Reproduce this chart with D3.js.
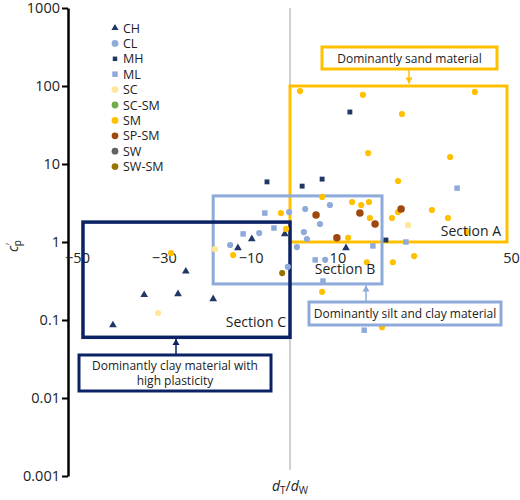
<!DOCTYPE html>
<html>
<head>
<meta charset="utf-8">
<script src="https://cdn.jsdelivr.net/npm/d3@7"></script>
<style>
body{margin:0;background:#fff;}
text{font-family:"Open Sans",sans-serif;fill:#222;}
</style>
</head>
<body>
<svg id="chart" width="520" height="500"></svg>
<script>
// 各类土的数据点 [dT/dW, c'p]
var classNames = ['CH','CL','MH','ML','SC','SC-SM','SM','SP-SM','SW','SW-SM'];
var CH = [[-40.8,0.086],[-33.6,0.21],[-25.8,0.215],[-24.0,0.42],[-17.7,0.186],[-12.0,0.84],[-8.8,1.09],[-1.2,1.27],[12.9,0.84]];
var CL = [[-13.8,0.915],[-7.1,1.30],[-0.2,2.42],[1.6,0.86],[-0.5,0.48],[3.5,2.65],[9.2,2.98],[6.9,1.70],[3.2,1.34],[3.9,1.09],[8.1,0.59]];
var MH = [[13.8,46.4],[-5.3,5.9],[2.8,5.2],[7.4,6.4],[22.1,1.06]];
var ML = [[38.5,4.9],[-5.8,2.35],[-10.8,1.27],[-3.7,1.51],[19.1,0.89],[26.7,1.0],[5.8,0.59],[7.6,0.316],[17.1,0.074]];
var SC = [[-30.4,0.123],[-17.3,0.81],[27.2,1.65]];
var SCSM = [];
var SM = [[2.3,86],[16.8,77],[42.6,84],[25.8,43.8],[18.0,13.8],[36.9,12.3],[24.9,6.05],[7.4,3.78],[14.3,3.26],[16.4,2.98],[18.2,3.26],
          [24.9,2.42],[32.7,2.57],[36.4,2.03],[18.4,2.03],[23.5,2.03],[40.8,1.34],[-2.1,2.35],[-0.9,1.47],[-13.1,0.68],[-27.4,0.72],
          [13.4,1.13],[28.6,0.66],[23.7,0.55],[17.7,0.55],[7.4,0.23],[21.2,0.081],[32.3,0.127]];
var SPSM = [[6.0,2.22],[16.1,2.35],[19.6,1.70],[25.6,2.65],[10.8,1.13]];
var SW = [];
var SWSM = [[-1.8,0.40]];
var seriesData = [CH, CL, MH, ML, SC, SCSM, SM, SPSM, SW, SWSM];

var yTicks = [0.001, 0.01, 0.1, 1, 10, 100, 1000];
var xTicks = [-50, -30, -10, 10, 50];

// 分区框（数据坐标）
var sections = [
    {name:'Section A', x0:0, x1:50, y0:1, y1:100},
    {name:'Section B', x0:-17.7, x1:21.2, y0:0.29, y1:3.9},
    {name:'Section C', x0:-47.7, x1:0, y0:0.06, y1:1.8}
];

// 样式
var navy = '#1f3864', lightBlue = '#8eaadb', gold = '#ffc000';
var colors = {'CH':navy,'CL':lightBlue,'MH':navy,'ML':lightBlue,'SC':'#ffe699','SC-SM':'#70ad47',
              'SM':gold,'SP-SM':'#9e480e','SW':'#636363','SW-SM':'#997300'};
var shapes = {'CH':d3.symbolTriangle,'MH':d3.symbolSquare,'ML':d3.symbolSquare};
var sizes = {'CH':26,'MH':24,'ML':30,'SP-SM':44};
var boxColors = {'Section A':gold,'Section B':lightBlue,'Section C':'#0b2264'};

var svg = d3.select('#chart');
var x = d3.scaleLinear().domain([-50, 50]).range([73, 507]);
var y = d3.scaleLog().domain([0.001, 1000]).range([476, 8]);

// x=0 灰线
svg.append('line')
    .attr('x1', x(0)).attr('x2', x(0))
    .attr('y1', y(1000)).attr('y2', y(0.0012))
    .attr('stroke', '#bfbfbf').attr('stroke-width', 1.5);

// 纵轴
var yAxis = svg.append('g')
    .attr('transform', 'translate(68,0)')
    .call(d3.axisLeft(y).tickValues(yTicks).tickFormat(function (d) { return d; })
        .tickSize(6).tickSizeOuter(0).tickPadding(2));
yAxis.select('.domain').attr('stroke', '#000').attr('stroke-width', 2.5);
yAxis.selectAll('.tick line').attr('stroke', '#000').attr('stroke-width', 2);
yAxis.selectAll('.tick text').style('font-size', '14.5px').style('font-family', '"Open Sans",sans-serif').attr('fill', '#222');

// 横轴标签（无轴线）
var xAxis = svg.append('g')
    .attr('transform', 'translate(4,' + y(1) + ')')
    .call(d3.axisBottom(x).tickValues(xTicks).tickFormat(d3.format('d')).tickSize(0).tickPadding(11));
xAxis.select('.domain').remove();
xAxis.selectAll('.tick text').style('font-size', '14.5px').style('font-family', '"Open Sans",sans-serif').attr('fill', '#222');

// 分区框
svg.append('g').selectAll('rect')
    .data(sections).enter()
    .append('rect')
    .attr('x', function (d) { return x(d.x0); })
    .attr('y', function (d) { return y(d.y1); })
    .attr('width', function (d) { return x(d.x1) - x(d.x0); })
    .attr('height', function (d) { return y(d.y0) - y(d.y1); })
    .attr('fill', 'none')
    .attr('stroke', function (d) { return boxColors[d.name]; })
    .attr('stroke-width', function (d) { return d.name == 'Section C' ? 3.5 : 3; });

// 数据点
var pts = svg.append('g');
classNames.forEach(function (c, i) {
    pts.selectAll('.p' + i)
        .data(seriesData[i]).enter()
        .append('path')
        .attr('class', 'p' + i)
        .attr('transform', function (d) { return 'translate(' + x(d[0]) + ',' + y(d[1]) + ')'; })
        .attr('d', d3.symbol().type(shapes[c] || d3.symbolCircle).size(sizes[c] || 30))
        .attr('fill', colors[c]);
});

// 分区名称
var secLabel = svg.append('g').style('font-size', '14px');
secLabel.append('text').attr('x', x(50) - 6).attr('y', y(1) - 6).attr('text-anchor', 'end').text('Section A');
secLabel.append('text').attr('x', 345).attr('y', y(0.29) - 10).attr('text-anchor', 'middle').text('Section B');
secLabel.append('text').attr('x', x(0) - 4).attr('y', y(0.06) - 10).attr('text-anchor', 'end').text('Section C');

// 说明框
function callout(lines, bx, by, bw, bh, color, ax, ay1, ay2) {
    var g = svg.append('g');
    g.append('line').attr('x1', ax).attr('x2', ax).attr('y1', ay1).attr('y2', ay2)
        .attr('stroke', color).attr('stroke-width', 1.5);
    var dir = ay2 > ay1 ? 1 : -1;
    g.append('path')
        .attr('d', 'M' + (ax - 3.5) + ',' + (ay2 - dir * 6) + 'L' + (ax + 3.5) + ',' + (ay2 - dir * 6) + 'L' + ax + ',' + ay2 + 'Z')
        .attr('fill', color);
    g.append('rect').attr('x', bx).attr('y', by).attr('width', bw).attr('height', bh)
        .attr('fill', '#fff').attr('stroke', color).attr('stroke-width', 3);
    lines.forEach(function (t, i) {
        g.append('text').attr('x', bx + bw / 2).attr('y', by + bh / 2 + 4.5 + (i - (lines.length - 1) / 2) * 15.5)
            .attr('text-anchor', 'middle').style('font-size', '12px').text(t);
    });
}
callout(['Dominantly sand material'], 322, 47, 175, 22, gold, 409, 69, 83.5);
callout(['Dominantly silt and clay material'], 309, 302, 192, 23, lightBlue, 366, 302, 285.5);
callout(['Dominantly clay material with', 'high plasticity'], 79, 355, 192, 36, '#0b2264', 176, 355, 339);

// 图例
var legend = svg.append('g').attr('transform', 'translate(115,28)');
classNames.forEach(function (c, i) {
    var row = legend.append('g').attr('transform', 'translate(0,' + i * 15.4 + ')');
    row.append('path')
        .attr('d', d3.symbol().type(shapes[c] || d3.symbolCircle).size(c == 'CH' ? 22 : (c == 'ML' ? 30 : (c == 'MH' ? 20 : 36))))
        .attr('fill', colors[c]);
    row.append('text').attr('x', 8).attr('y', 4.5).style('font-size', '12.5px').text(c);
});

// 轴标题
var xt = svg.append('text').attr('x', x(0)).attr('y', 491).attr('text-anchor', 'middle').style('font-size', '14px');
xt.append('tspan').style('font-style', 'italic').text('d');
xt.append('tspan').attr('dy', 3).style('font-size', '10px').text('T');
xt.append('tspan').attr('dy', -3).text('/');
xt.append('tspan').style('font-style', 'italic').text('d');
xt.append('tspan').attr('dy', 3).style('font-size', '10px').text('W');

var yt = svg.append('text').attr('transform', 'translate(18,246) rotate(-90)').attr('text-anchor', 'middle').style('font-size', '14px');
yt.append('tspan').style('font-style', 'italic').text('c');
yt.append('tspan').attr('dy', -4).style('font-size', '10px').text('′');
yt.append('tspan').attr('dx', -3).attr('dy', 7).style('font-size', '10px').text('p');
</script>
</body>
</html>
